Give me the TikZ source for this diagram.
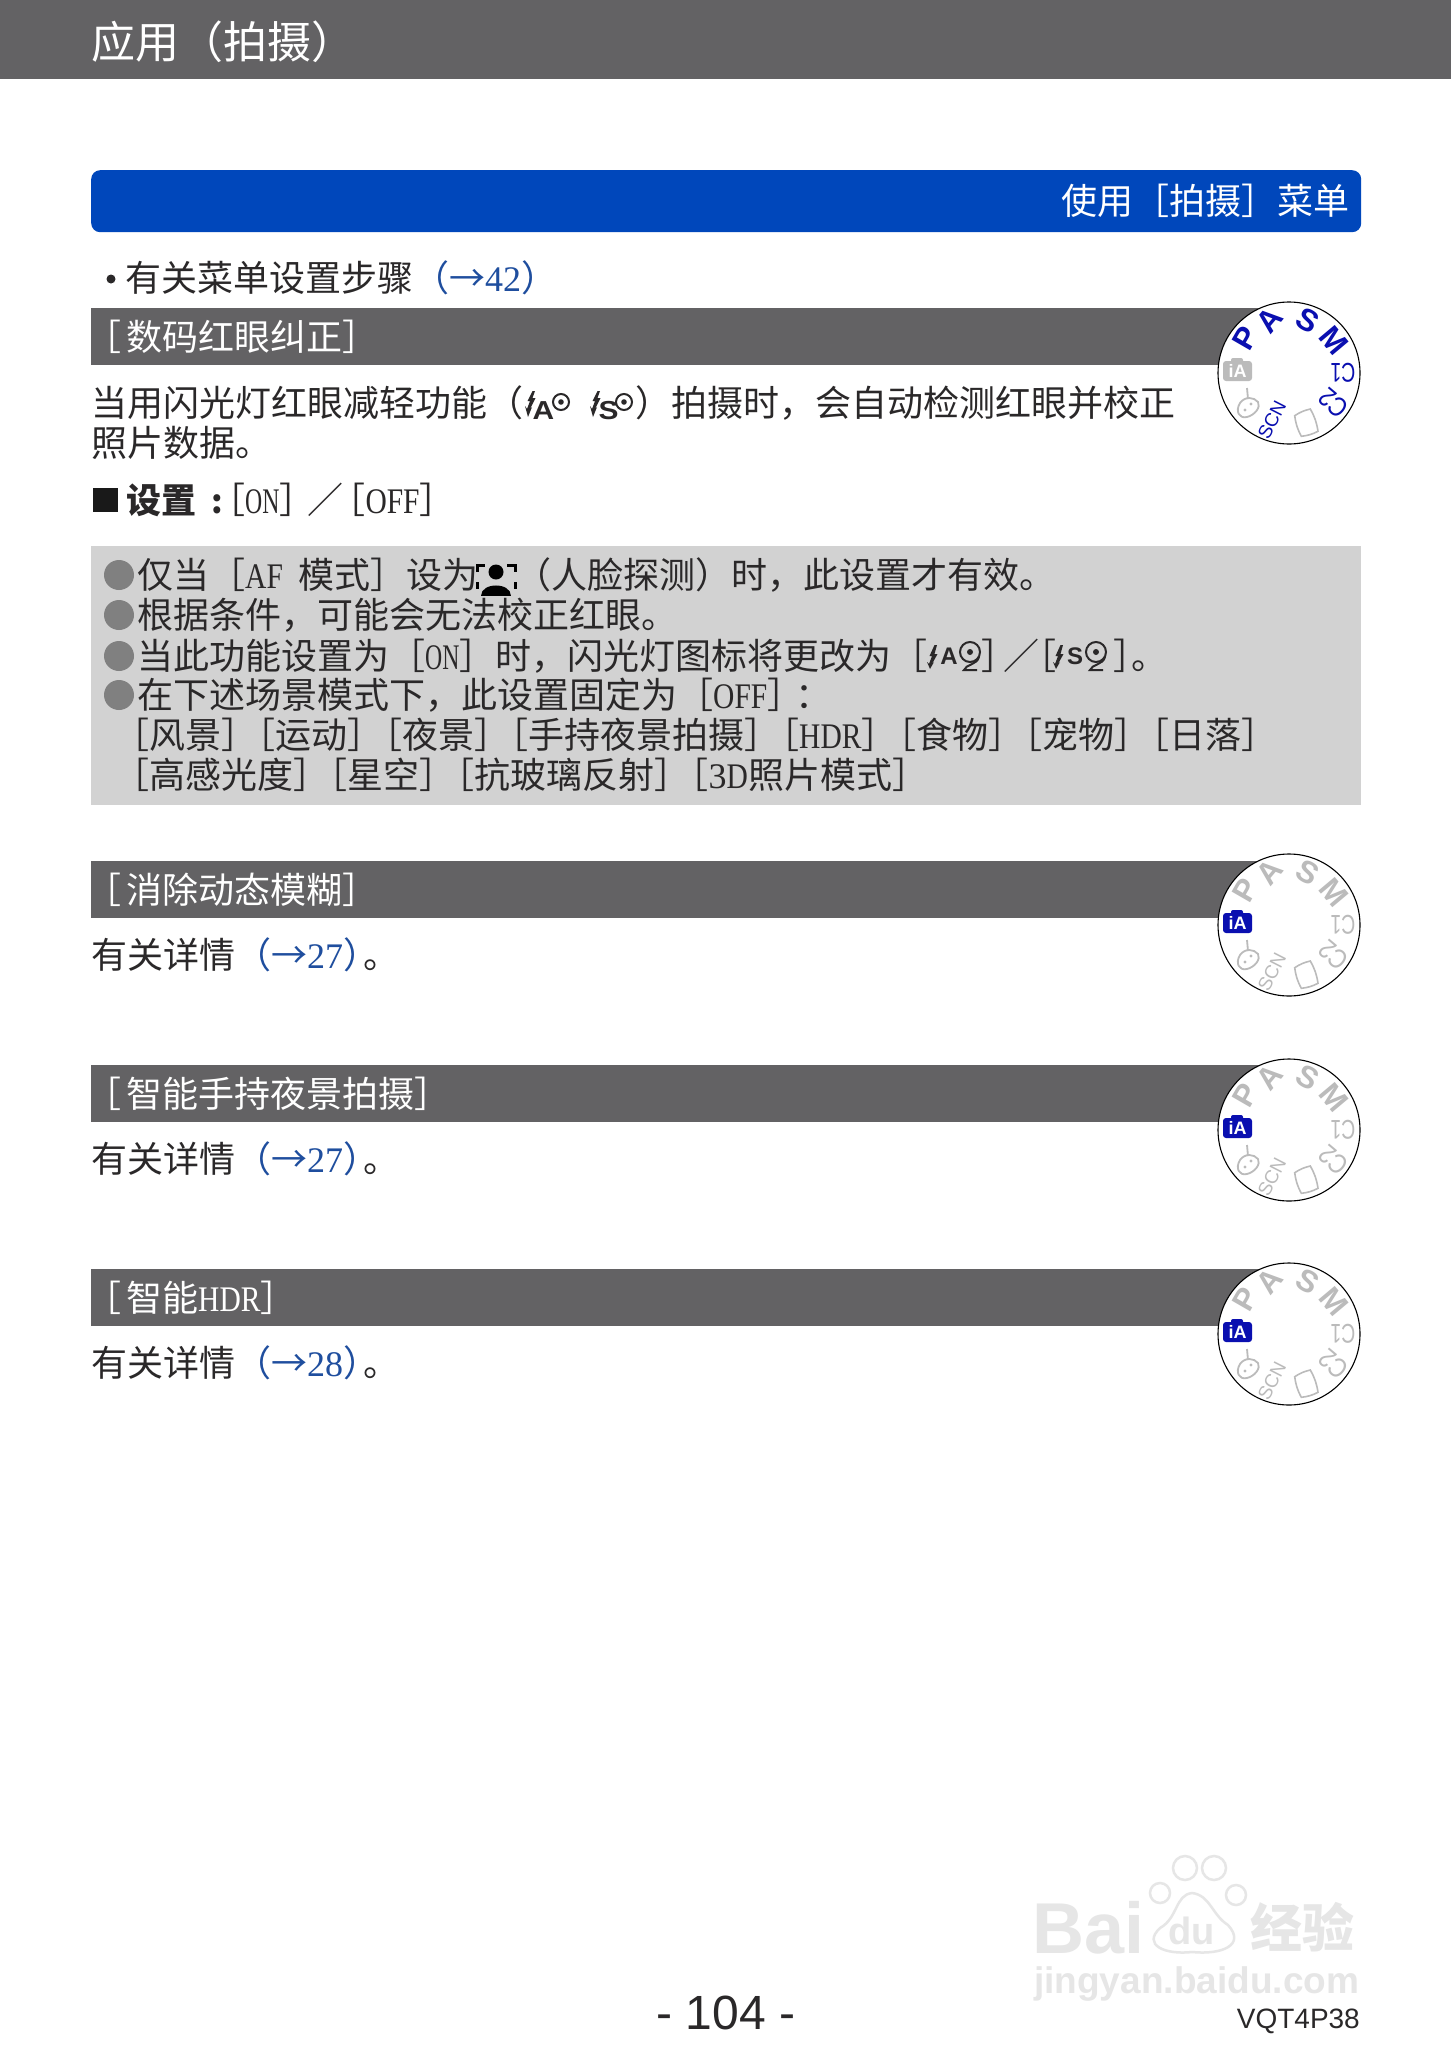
\documentclass[tikz,border=0pt]{standalone}
\usepackage{fontspec}
\usepackage{xcolor}
\usetikzlibrary{positioning}
\setmainfont{Noto Sans CJK SC}
\newfontfamily\latin[FakeStretch=0.82]{Liberation Serif}
\newfontfamily\latinn[FakeStretch=0.66]{Liberation Serif}
\newfontfamily\digits{Liberation Serif}
\newfontfamily\arial{Liberation Sans}
\definecolor{inkc}{HTML}{2A2829}
\definecolor{headc}{HTML}{636264}
\definecolor{bluebar}{HTML}{0047BB}
\definecolor{linkc}{HTML}{1F4E9E}
\definecolor{notec}{HTML}{D2D2D2}
\definecolor{dotc}{HTML}{808080}
\definecolor{dialblue}{HTML}{0A0FB0}
\definecolor{dialgray}{HTML}{BBBBBB}
\definecolor{markc}{HTML}{E6E6E6}
\newcommand{\gap}{\kern-17.5pt}
\tikzset{
  txt/.style={anchor=base west, inner sep=0pt, text=inkc, font=\fontsize{36}{36}\selectfont},
  secbar/.style={anchor=north west, inner sep=0pt, fill=headc, minimum width=1190pt, minimum height=57pt},
  sectxt/.style={txt, text=white},
  notedot/.style={circle, fill=dotc, inner sep=0pt, minimum size=30pt},
  dialmark/.style={inner sep=0pt, font=\arial\bfseries\fontsize{31}{31}\selectfont},
  pawtoe/.style={circle, draw=markc, line width=2.5pt, fill=white, inner sep=0pt}
}
% dial: name, centre, colour of the letters, colour of iA
\newcommand{\modedial}[4]{
  \node (#1) at (#2) [circle, draw=black, line width=1.1pt, fill=white, minimum size=142pt, inner sep=0pt] {};
  \begin{scope}[shift={(#2)}]
    \foreach \nm/\ang/\rot in {P/141/60, A/110/50, S/70/-30, M/36/-50}
      \node (#1\nm) at (\ang:56pt) [dialmark, text=#3, rotate=\rot] {\nm};
    \node (#1C) at (0:54pt) [dialmark, text=#3, rotate=180, xscale=.72, font=\arial\fontsize{27}{27}\selectfont] {C1};
    \node (#1D) at (-34:54pt) [dialmark, text=#3, rotate=140, xscale=.85, font=\arial\fontsize{27}{27}\selectfont] {C2};
    \node (#1N) at (-110:50pt) [dialmark, text=#3, rotate=63, font=\arial\fontsize{19}{19}\selectfont] {SCN};
    % iA
    \fill [#4, rounded corners=3pt] (-66,-12) rectangle (-37,8);
    \fill [#4, rounded corners=2pt] (-58,-15) rectangle (-46,-8);
    \node (#1i) at (-51.5,-2) [inner sep=0pt, text=white, font=\arial\bfseries\fontsize{18}{18}\selectfont] {iA};
    % palette
    \draw [dialgray, line width=1.8pt] (-49,30) .. controls (-54,38) and (-50,46) .. (-42,44) .. controls (-34,42) and (-28,34) .. (-31,29) .. controls (-35,24) and (-44,23) .. (-49,30);
    \draw [dialgray, line width=1.8pt] (-42,15) -- (-41,26);
    \fill [dialgray] (-44,37) circle (1.6pt) (-38,31) circle (1.6pt);
    % panorama
    \draw [dialgray, line width=1.6pt] (5.7,42.7) to[bend left=10] (21.3,36) to[bend left=10] (29,58.3) to[bend left=10] (12.3,63.3) to[bend left=10] cycle;
  \end{scope}
}
% flash with letter and eye
\newcommand{\flashicon}[4]{
  \begin{scope}[shift={(#2)}]
    \fill [inkc] (1.5,-9) -- (-3.5,1) -- (-1,1) -- (-4,9) -- (-6,6) -- (-3,17) -- (1,7) -- (-1,9) -- (4.5,-2) -- (1.5,-2) -- (4,-9) -- cycle;
    \node (#1l) at (12.5,11) [inner sep=0pt, text=inkc, xscale=1.15, font=\arial\bfseries\fontsize{26}{26}\selectfont] {#3};
    \draw [inkc, line width=2pt] (#4,2) circle (8pt);
    \fill [inkc] (#4,2) circle (2.8pt);
  \end{scope}
}
% the same, eye with a tail
\newcommand{\flashtail}[3]{
  \begin{scope}[shift={(#2)}]
    \fill [inkc] (1.5,-11) -- (-3.5,0) -- (-1,0) -- (-4,8) -- (-6,6) -- (-3,13) -- (1,6) -- (-1,8) -- (4.5,-2) -- (1.5,-2) -- (4,-11) -- cycle;
    \node (#1l) at (16,0) [inner sep=0pt, text=inkc, font=\arial\bfseries\fontsize{24}{24}\selectfont] {#3};
    \draw [inkc, line width=2pt] (37,-4) circle (10pt);
    \fill [inkc] (37,-4) circle (3pt);
    \draw [inkc, line width=2pt] (46,1) .. controls (44,9) and (33,8) .. (31,14) -- (44,14);
  \end{scope}
}
\begin{document}
\begin{tikzpicture}[x=1pt, y=-1pt]
  \useasboundingbox (0,0) rectangle (1451,2064);
  \fill [white] (0,0) rectangle (1451,2064);

  % Testata
  \node (head) at (0,0) [anchor=north west, inner sep=0pt, fill=headc, minimum width=1451pt, minimum height=79pt] {};
  \node (headtxt) at (91,58) [sectxt, font=\fontsize{44}{44}\selectfont] {应用（拍摄）};
  \node (blue) at (91,170) [anchor=north west, inner sep=0pt, fill=bluebar, rounded corners=9pt, minimum width=1270pt, minimum height=62pt] {};
  \node (bluetxt) at (1350,214) [sectxt, anchor=base east] {使用［拍摄］菜单};
  \node (ref) at (125,291) [txt] {有关菜单设置步骤\textcolor{linkc}{（→{\digits 42}）}};
  \fill [inkc] (111,279) circle (4.5pt);

  % Sezione 1
  \node (secone) at (91,308) [secbar] {};
  \node (seconetxt) at (85,350) [sectxt] {［\kern5pt 数码红眼纠正］};
  \node (bodya) at (91,416) [txt] {当用闪光灯红眼减轻功能（};
  \flashicon{flasha}{531,400}{A}{30}
  \flashicon{flashs}{596,400}{S}{28}
  \node (bodyb) at (635,416) [txt] {）拍摄时，会自动检测红眼并校正};
  \node (bodyc) at (91,456) [txt] {照片数据。};
  \fill [black!90] (93,488) rectangle (118,512);
  \node (setname) at (126,513) [txt, font=\bfseries\fontsize{35}{35}\selectfont] {设置};
  \node (setcolon) at (211,513) [txt, font=\bfseries\fontsize{33}{33}\selectfont] {:};
  \node (setval) at (209,513) [txt] {［{\latinn ON}］\kern-8pt／\kern-14pt［{\latin OFF}］};
  \modedial{dialone}{1289,373}{dialblue}{dialgray}

  % Note
  \node (note) at (91,546) [anchor=north west, inner sep=0pt, fill=notec, minimum width=1270pt, minimum height=259pt] {};
  \foreach \nm/\ypos in {a/575, b/615, c/656, d/695}
    \node (dot\nm) at (119,\ypos) [notedot] {};
  \node (lineaa) at (137,588) [txt] {仅当［{\latin AF}\kern16pt 模式］设为};
  \node (lineab) at (515,588) [txt] {（人脸探测）时，此设置才有效。};
  % volto
  \fill [black] (496,572) circle (7.5pt);
  \fill [black] (481,596) .. controls (481,582) and (511,582) .. (511,596) -- cycle;
  \draw [black, line width=3pt] (477,572) -- (477,565) -- (485,565) (507,565) -- (515,565) -- (515,572) (477,582) -- (477,589) (515,582) -- (515,589);
  \node (lineb) at (137,628) [txt] {根据条件，可能会无法校正红眼。};
  \node (linec) at (137,669) [txt] {当此功能设置为［{\latinn ON}］时，闪光灯图标将更改为［};
  \flashtail{flashb}{933,656}{A}
  \node (lineca) at (981,669) [txt] {］};
  \node (linecb) at (1003,669) [txt] {／};
  \node (linecc) at (1020,669) [txt] {［};
  \flashtail{flashc}{1059,656}{S}
  \node (linecd) at (1113,669) [txt] {］\kern-18pt。};
  \node (lined) at (137,708) [txt] {在下述场景模式下，此设置固定为［{\latin OFF}］\kern-8pt：};
  \node (linee) at (113,748) [txt] {［风景］\gap［运动］\gap［夜景］\gap［手持夜景拍摄］\gap［{\latin HDR}］\gap［食物］\gap［宠物］\gap［日落］};
  \node (linef) at (113,788) [txt] {［高感光度］\gap［星空］\gap［抗玻璃反射］\gap［{\digits 3}{\latin D}照片模式］};

  % Sezione 2
  \node (sectwo) at (91,861) [secbar] {};
  \node (sectwotxt) at (85,903) [sectxt] {［\kern5pt 消除动态模糊］};
  \node (bodytwo) at (91,968) [txt] {有关详情\textcolor{linkc}{（→{\digits 27}）}\kern-16pt。};
  \modedial{dialtwo}{1289,925}{dialgray}{dialblue}

  % Sezione 3
  \node (secthree) at (91,1065) [secbar] {};
  \node (secthreetxt) at (85,1107) [sectxt] {［\kern5pt 智能手持夜景拍摄］};
  \node (bodythree) at (91,1172) [txt] {有关详情\textcolor{linkc}{（→{\digits 27}）}\kern-16pt。};
  \modedial{dialthree}{1289,1130}{dialgray}{dialblue}

  % Sezione 4
  \node (secfour) at (91,1269) [secbar] {};
  \node (secfourtxt) at (85,1311) [sectxt] {［\kern5pt 智能{\latin HDR}］};
  \node (bodyfour) at (91,1376) [txt] {有关详情\textcolor{linkc}{（→{\digits 28}）}\kern-16pt。};
  \modedial{dialfour}{1289,1334}{dialgray}{dialblue}

  % Filigrana
  \node (markbai) at (1032,1953) [txt, text=markc, font=\arial\bfseries\fontsize{72}{72}\selectfont] {Bai};
  \node (toea) at (1160,1893) [pawtoe, minimum width=20pt] {};
  \node (toeb) at (1185,1868) [pawtoe, minimum width=24pt] {};
  \node (toec) at (1214,1868) [pawtoe, minimum width=24pt] {};
  \node (toed) at (1236,1895) [pawtoe, minimum width=20pt] {};
  \draw [markc, line width=2.5pt, fill=white] (1192,1893) .. controls (1175,1895) and (1178,1918) .. (1160,1928) .. controls (1142,1945) and (1165,1955) .. (1192,1952) .. controls (1222,1955) and (1246,1945) .. (1228,1925) .. controls (1212,1915) and (1210,1895) .. (1192,1893);
  \node (markdu) at (1168,1944) [txt, text=markc, font=\arial\bfseries\fontsize{38}{38}\selectfont] {du};
  \node (markzh) at (1250,1947) [txt, text=markc, font=\bfseries\fontsize{52}{52}\selectfont] {经验};
  \node (markurl) at (1034,1993) [txt, text=markc, font=\arial\bfseries\fontsize{37}{37}\selectfont] {jingyan.baidu.com};

  % Piede
  \node (page) at (726,2029) [anchor=base, inner sep=0pt, text=inkc, font=\arial\fontsize{48}{48}\selectfont] {- 104 -};
  \node (code) at (1360,2028) [anchor=base east, inner sep=0pt, text=inkc, font=\arial\fontsize{28}{28}\selectfont] {VQT4P38};
\end{tikzpicture}
\end{document}
